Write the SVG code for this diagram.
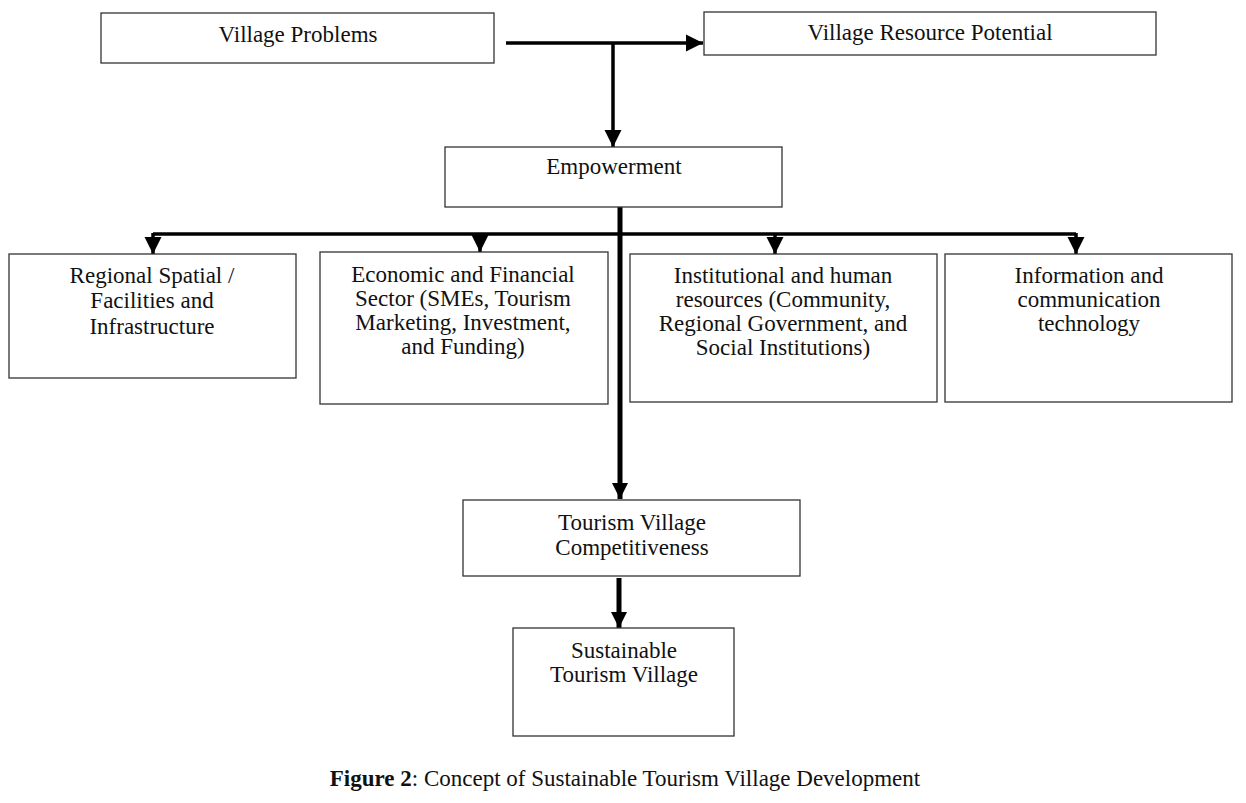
<svg xmlns="http://www.w3.org/2000/svg" width="1246" height="803" viewBox="0 0 1246 803">
<style>
.box{fill:#fff;stroke:#333;stroke-width:1.3}
.t{font-family:"Liberation Serif","Times New Roman",serif;font-size:23px;fill:#111;text-anchor:middle}
.c{stroke:#000;fill:none}
</style>
<defs>
<marker id="ah" viewBox="0 0 10 10" refX="10" refY="5" markerWidth="5" markerHeight="5" markerUnits="strokeWidth" orient="auto">
<path d="M0,0 L10,5 L0,10 z" fill="#000"/>
</marker>
<marker id="ah2" viewBox="0 0 10 10" refX="10" refY="5" markerWidth="3.6" markerHeight="3.2" markerUnits="strokeWidth" orient="auto">
<path d="M0,0 L10,5 L0,10 z" fill="#000"/>
</marker>
</defs>
<rect width="1246" height="803" fill="#fff"/>
<g id="connectors">
<path class="c" stroke-width="3.5" d="M506,43 H703" marker-end="url(#ah)"/>
<path class="c" stroke-width="3.5" d="M613,43 V147" marker-end="url(#ah)"/>
<path class="c" stroke-width="5" d="M620,207 V499" marker-end="url(#ah2)"/>
<path class="c" stroke-width="3.5" d="M153,234 H1076"/>
<path class="c" stroke-width="3.5" d="M153,233 V254" marker-end="url(#ah)"/>
<path class="c" stroke-width="3.5" d="M480,233 V252" marker-end="url(#ah)"/>
<path class="c" stroke-width="3.5" d="M775,233 V254" marker-end="url(#ah)"/>
<path class="c" stroke-width="3.5" d="M1076,233 V254" marker-end="url(#ah)"/>
<path class="c" stroke-width="5" d="M619,578 V628" marker-end="url(#ah2)"/>
</g>
<g id="village-problems">
<rect class="box" x="101" y="13" width="393" height="50"/>
<text class="t" x="298" y="42">Village Problems</text>
</g>
<g id="village-resource">
<rect class="box" x="704" y="12" width="452" height="43"/>
<text class="t" x="930" y="40">Village Resource Potential</text>
</g>
<g id="empowerment">
<rect class="box" x="445" y="147" width="337" height="60"/>
<text class="t" x="614" y="174">Empowerment</text>
</g>
<g id="regional-spatial">
<rect class="box" x="9" y="254" width="287" height="124"/>
<text class="t" x="152" y="283">Regional Spatial /</text>
<text class="t" x="152" y="308">Facilities and</text>
<text class="t" x="152" y="334">Infrastructure</text>
</g>
<g id="economic">
<rect class="box" x="320" y="252" width="288" height="152"/>
<text class="t" x="463" y="282">Economic and Financial</text>
<text class="t" x="463" y="306">Sector (SMEs, Tourism</text>
<text class="t" x="463" y="330">Marketing, Investment,</text>
<text class="t" x="463" y="354">and Funding)</text>
</g>
<g id="institutional">
<rect class="box" x="630" y="254" width="307" height="148"/>
<text class="t" x="783" y="283">Institutional and human</text>
<text class="t" x="783" y="307">resources (Community,</text>
<text class="t" x="783" y="331">Regional Government, and</text>
<text class="t" x="783" y="355">Social Institutions)</text>
</g>
<g id="ict">
<rect class="box" x="945" y="254" width="287" height="148"/>
<text class="t" x="1089" y="283">Information and</text>
<text class="t" x="1089" y="307">communication</text>
<text class="t" x="1089" y="331">technology</text>
</g>
<g id="competitiveness">
<rect class="box" x="463" y="500" width="337" height="76"/>
<text class="t" x="632" y="530">Tourism Village</text>
<text class="t" x="632" y="555">Competitiveness</text>
</g>
<g id="sustainable">
<rect class="box" x="513" y="628" width="221" height="108"/>
<text class="t" x="624" y="658">Sustainable</text>
<text class="t" x="624" y="682">Tourism Village</text>
</g>
<g id="caption">
<text class="t" x="625" y="786" font-size="24"><tspan font-weight="bold">Figure 2</tspan>: Concept of Sustainable Tourism Village Development</text>
</g>
</svg>
